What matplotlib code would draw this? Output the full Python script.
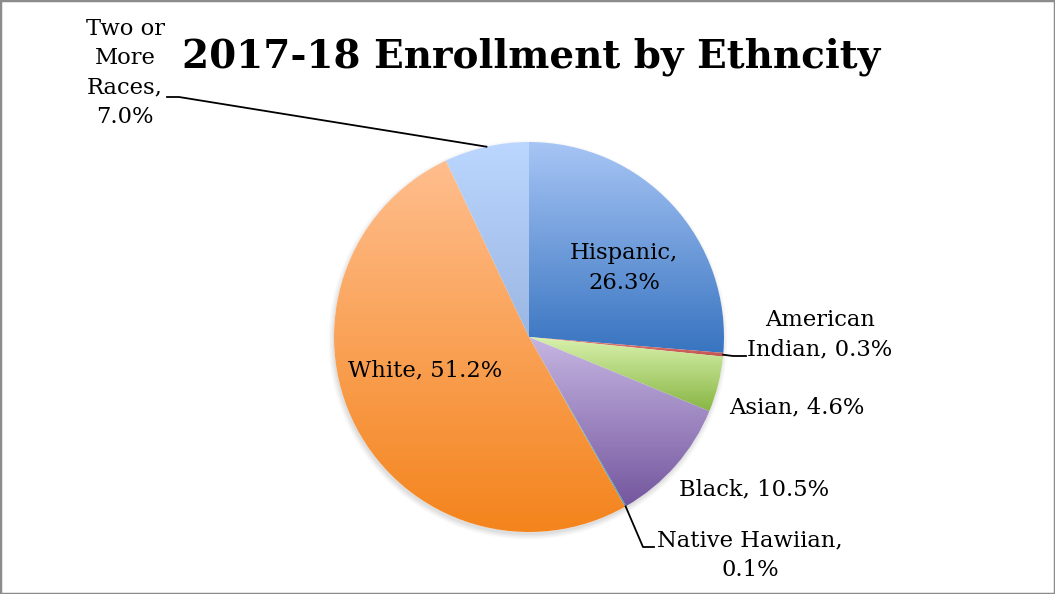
import numpy as np
import matplotlib
matplotlib.use("Agg")
import matplotlib.pyplot as plt
from matplotlib.patches import Rectangle, Circle

# ---- data ----
categories = ["Hispanic", "American\nIndian", "Asian", "Black", "Native Hawiian", "White", "Two or\nMore\nRaces"]
values = [26.3, 0.3, 4.6, 10.5, 0.1, 51.2, 7.0]
title = "2017-18 Enrollment by Ethncity"

# gradient colours (top, bottom) per slice
grad_top = ["#a7c5f5", "#e8807c", "#daf2ae", "#c6b6e2", "#6cc4dc", "#ffbe8e", "#bbd7ff"]
grad_bot = ["#3874c0", "#c0504d", "#88b644", "#74569e", "#3a9ab5", "#f4841c", "#9ab6e2"]

W, H = 1055, 594
fig = plt.figure(figsize=(W / 100, H / 100), dpi=100)
ax = fig.add_axes([0, 0, 1, 1])

cx, cy, R = 529, H - 337, 195

# soft shadow
for i, a in enumerate([0.04, 0.035, 0.03, 0.025]):
    ax.add_patch(Circle((cx - 1, cy - 3), R + i * 1.5, fc="#000000", ec="none", alpha=a, zorder=0))
ax.add_patch(Circle((cx, cy), R, fc="white", ec="none", zorder=0.5))

wedges, _ = ax.pie(values, startangle=90, counterclock=False, center=(cx, cy), radius=R,
                   wedgeprops=dict(fc="none", ec="none", lw=0))

fig.canvas.draw()
for w, ct, cb in zip(wedges, grad_top, grad_bot):
    bb = w.get_path().get_extents()
    t = np.array(matplotlib.colors.to_rgb(ct))
    b = np.array(matplotlib.colors.to_rgb(cb))
    n = 256
    f = np.linspace(0, 1, n)[:, None]
    img = (t[None, :] * (1 - f) + b[None, :] * f)[:, None, :]
    img = np.repeat(img, 2, axis=1)
    im = ax.imshow(img, extent=(bb.x0, bb.x1, bb.y0, bb.y1), origin="upper",
                   aspect="auto", interpolation="bilinear", zorder=1)
    im.set_clip_path(w)

ax.set_xlim(0, W)
ax.set_ylim(0, H)
ax.set_aspect("equal")
ax.axis("off")

FONT = "DejaVu Serif"
fs = 16.3
LS = 1.42

def lbl(i):
    return f"{categories[i]}, {values[i]:.1f}%"

# data labels
ax.text(624, H - 268, "Hispanic,\n26.3%", ha="center", va="center", fontsize=fs, family=FONT, linespacing=LS, zorder=3)
ax.text(425, H - 370, lbl(5), ha="center", va="center", fontsize=fs, family=FONT, zorder=3)
ax.text(820, H - 335, "American\nIndian, 0.3%", ha="center", va="center", fontsize=fs, family=FONT, linespacing=LS, zorder=3)
ax.text(797, H - 407, lbl(2), ha="center", va="center", fontsize=fs, family=FONT, zorder=3)
ax.text(754, H - 489, lbl(3), ha="center", va="center", fontsize=fs, family=FONT, zorder=3)
ax.text(750, H - 555, "Native Hawiian,\n0.1%", ha="center", va="center", fontsize=fs, family=FONT, linespacing=LS, zorder=3)
ax.text(125, H - 73, "Two or\nMore\nRaces,\n7.0%", ha="center", va="center", fontsize=fs, family=FONT, linespacing=LS, zorder=3)

# leader lines anchored at wedge mid-angles
cum = np.cumsum([0] + values[:-1])
def anchor(i):
    mid = (cum[i] + values[i] / 2) / 100 * 2 * np.pi
    return cx + R * np.sin(mid), cy + R * np.cos(mid)

x, y = anchor(6)
ax.plot([x, 179, 167], [y, H - 97, H - 97], color="black", lw=1.3, zorder=3)
x, y = anchor(1)
ax.plot([x, 733, 746], [y, H - 356, H - 356], color="black", lw=1.3, zorder=3)
x, y = anchor(4)
ax.plot([x, 643, 654], [y, H - 547, H - 547], color="black", lw=1.3, zorder=3)

ax.text(531, H - 68, title, ha="center", va="baseline", fontsize=28, family=FONT, fontweight="bold", zorder=3)

fig.add_artist(Rectangle((0, 0), 1, 1, transform=fig.transFigure, fill=False, ec="#8c8c8c", lw=2.5))

fig.savefig("out.png", dpi=100)
